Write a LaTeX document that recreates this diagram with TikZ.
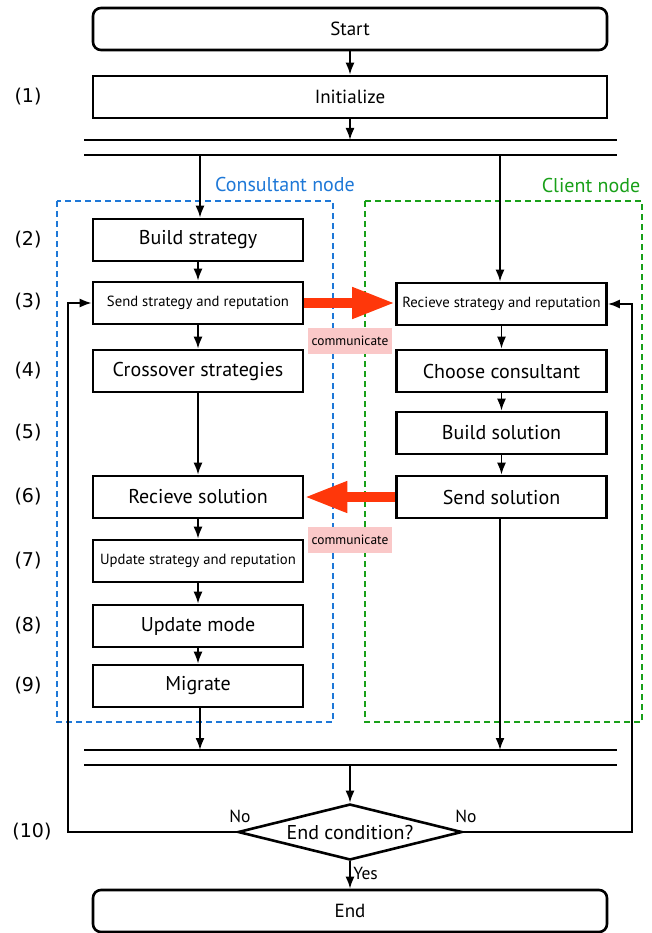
\documentclass[tikz,border=0pt]{standalone}
\usepackage{fontspec}
\setmainfont{PT Sans}
\newfontfamily\numfont{DejaVu Sans}
\usetikzlibrary{arrows.meta,shapes.geometric}

\definecolor{consblue}{RGB}{30,120,215}
\definecolor{clientgreen}{RGB}{25,160,25}
\definecolor{msgred}{RGB}{255,55,10}
\definecolor{msgpink}{RGB}{250,200,200}

\begin{document}
\begin{tikzpicture}[x=1pt,y=-1pt,
  box/.style={draw, line width=2.6pt, minimum width=210pt, minimum height=42pt,
              inner sep=0pt, font=\fontsize{20}{24}\selectfont},
  smallbox/.style={box, font=\fontsize{14.7}{18}\selectfont},
  terminal/.style={draw, line width=2.6pt, rounded corners=8pt, minimum width=514pt,
              minimum height=42pt, inner sep=0pt, font=\fontsize{19}{23}\selectfont},
  wide/.style={draw, line width=2.6pt, minimum width=514pt, minimum height=42pt,
              inner sep=0pt, font=\fontsize{19}{23}\selectfont},
  flow/.style={line width=1.9pt, -{Latex[length=12pt,width=9pt]}},
  bar/.style={line width=2.8pt},
  msg/.style={msgred, line width=10pt, -{Triangle[length=43pt,width=29pt]}},
  msglabel/.style={fill=msgpink, inner sep=0pt, minimum width=84pt, minimum height=26pt,
              font=\fontsize{13.4}{16}\selectfont},
  steplabel/.style={font=\numfont\fontsize{19}{22}\selectfont},
  lane/.style={dash pattern=on 6pt off 4pt, line width=2.4pt},
  answer/.style={font=\fontsize{17.5}{20}\selectfont}
]
\useasboundingbox (0,0) rectangle (651,933);

% swimlanes
\draw[lane, consblue] (57,201) rectangle (333,722);
\draw[lane, clientgreen] (365,201) rectangle (642,722);
\node[text=consblue, font=\fontsize{20}{24}\selectfont] (lblcons) at (285,185) {Consultant node};
\node[text=clientgreen, font=\fontsize{20}{24}\selectfont] (lblclient) at (591,186) {Client node};

% start and initialisation
\node[terminal] (start) at (350,29) {Start};
\node[wide] (init) at (350,97) {Initialize};

% fork bars
\coordinate (forkA) at (350,140);
\coordinate (forkL) at (200,155);
\coordinate (forkR) at (500,155);
\draw[bar] (84,140) -- (617,140);
\draw[bar] (84,155) -- (617,155);

% consultant column
\node[box] (build) at (198,240) {Build strategy};
\node[smallbox] (send) at (198,303) {Send strategy and reputation};
\node[box] (cross) at (198,371) {Crossover strategies};
\node[box] (recsol) at (198,497) {Recieve solution};
\node[smallbox] (upd) at (198,561) {Update strategy and reputation};
\node[box] (mode) at (198,626) {Update mode};
\node[box] (migr) at (198,686) {Migrate};

% client column
\node[smallbox] (recstr) at (501.5,304) {Recieve strategy and reputation};
\node[box] (choose) at (501.5,371) {Choose consultant};
\node[box] (bsol) at (501.5,433) {Build solution};
\node[box] (ssol) at (501.5,497) {Send solution};

% join bars
\coordinate (joinL) at (200,750);
\coordinate (joinR) at (500,750);
\coordinate (joinB) at (350,765);
\draw[bar] (84,750) -- (617,750);
\draw[bar] (84,765) -- (617,765);

% decision and end
\node[draw, line width=2.6pt, diamond, aspect=4, minimum width=224pt, minimum height=56pt,
      inner sep=0pt, font=\fontsize{20}{24}\selectfont] (cond) at (350,832) {End condition?};
\node[terminal] (end) at (350,911) {End};

% step numbers
\node[steplabel] (s1) at (28,97) {(1)};
\node[steplabel] (s2) at (28,240) {(2)};
\node[steplabel] (s3) at (28,302) {(3)};
\node[steplabel] (s4) at (28,371) {(4)};
\node[steplabel] (s5) at (28,433) {(5)};
\node[steplabel] (s6) at (28,497) {(6)};
\node[steplabel] (s7) at (28,561) {(7)};
\node[steplabel] (s8) at (28,626) {(8)};
\node[steplabel] (s9) at (28,686) {(9)};
\node[steplabel] (s10) at (32,832) {(10)};

% main flow
\draw[flow] (start) -- (init);
\draw[flow] (init) -- (forkA);
\draw[flow] (forkL) -- (forkL |- build.north);
\draw[flow] (forkR) -- (forkR |- recstr.north);
\draw[flow] (build) -- (send);
\draw[flow] (send) -- (cross);
\draw[flow] (cross) -- (recsol);
\draw[flow] (recsol) -- (upd);
\draw[flow] (upd) -- (mode);
\draw[flow] (mode) -- (migr);
\draw[flow] (migr.south -| joinL) -- (joinL);
\draw[flow] (recstr) -- (choose);
\draw[flow] (choose) -- (bsol);
\draw[flow] (bsol) -- (ssol);
\draw[flow] (ssol.south -| joinR) -- (joinR);
\draw[flow] (joinB) -- (cond.north);
\draw[flow] (cond.south) -- node[answer, right, pos=0.45, xshift=-1pt] {Yes} (end.north);

% loops back on "No"
\coordinate (loopL) at (68,832);
\coordinate (loopR) at (632,832);
\draw[flow] (cond.west) -- (loopL) |- (send.west);
\draw[flow] (cond.east) -- (loopR) |- (recstr.east);
\node[answer] (noL) at (240,816) {No};
\node[answer] (noR) at (466,816) {No};

% messages between nodes
\draw[msg] (send.east) -- (send.east -| recstr.west);
\draw[msg] (ssol.west) -- (recsol.east);
\node[msglabel] (comm1) at (350,341) {communicate};
\node[msglabel] (comm2) at (350,540) {communicate};
\end{tikzpicture}
\end{document}
